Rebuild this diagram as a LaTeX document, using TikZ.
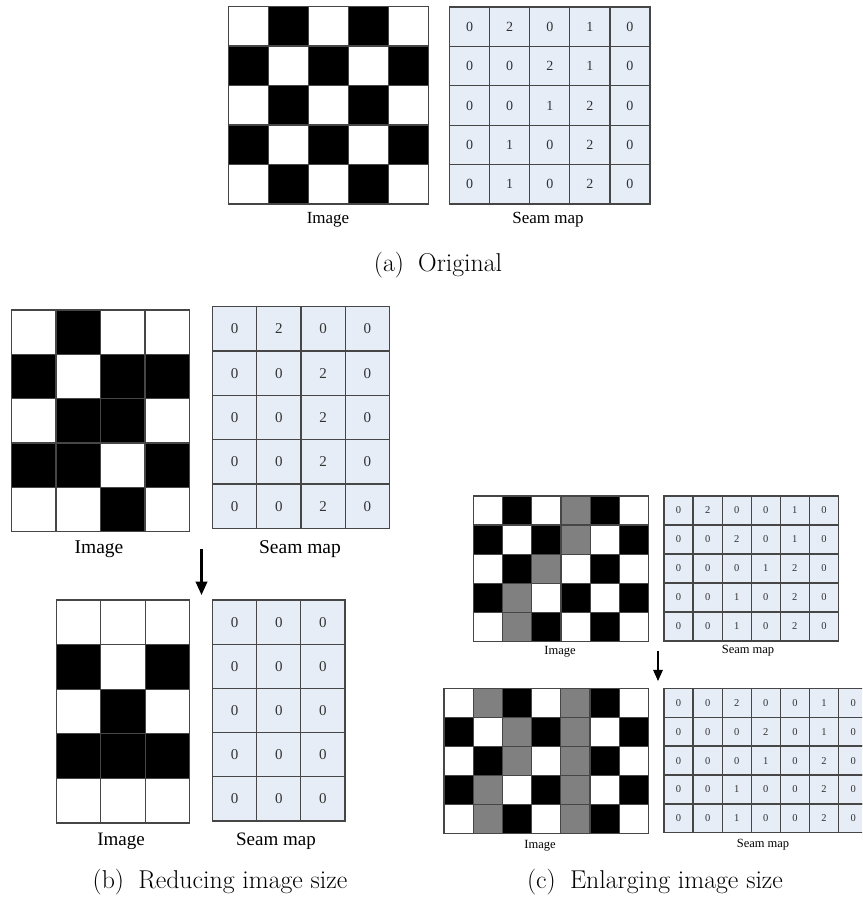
\documentclass[tikz,border=0pt]{standalone}
\usepackage{fontspec}
\newfontfamily\labfont{Liberation Serif}
\usetikzlibrary{arrows.meta}
\definecolor{cW}{RGB}{255,255,255}
\definecolor{cB}{RGB}{0,0,0}
\definecolor{cG}{RGB}{128,128,128}
\definecolor{seamfill}{RGB}{231,237,247}
\definecolor{gridln}{RGB}{70,70,70}
\definecolor{digitcol}{RGB}{50,50,50}
\tikzset{
  imgcell/.style={draw=gridln, line width=1.3pt},
  seamcell/.style={fill=seamfill, draw=gridln, line width=1.3pt},
  digit/.style={text=digitcol, inner sep=0pt},
  lbl/.style={anchor=base, inner sep=0pt, text=black},
  capt/.style={anchor=base, inner sep=0pt, font=\fontsize{25.8}{30}\selectfont},
  flow/.style={line width=#1, -{Triangle[length=2.4*#1+8pt, width=2*#1+7pt]}},
}
% #1 x0, #2 y0, #3 cell w, #4 cell h, #5 rows
\newcommand{\drawimggrid}[5]{%
  \foreach \rowlist [count=\r from 0] in {#5} {
    \foreach \cc [count=\k from 0] in \rowlist {
      \filldraw[imgcell, fill=c\cc] ({#1+\k*#3},{#2+\r*#4}) rectangle ++(#3,#4);
    }
  }
}
% #1 x0, #2 y0, #3 cell w, #4 cell h, #5 rows, #6 font size
\newcommand{\drawseamgrid}[6]{%
  \foreach \rowlist [count=\r from 0] in {#5} {
    \foreach \v [count=\k from 0] in \rowlist {
      \filldraw[seamcell] ({#1+\k*#3},{#2+\r*#4}) rectangle ++(#3,#4);
      \node[digit, font=\labfont\fontsize{#6}{#6}\selectfont] at ({#1+(\k+0.5)*#3},{#2+(\r+0.5)*#4}) {\v};
    }
  }
}
\begin{document}
\begin{tikzpicture}[x=1pt,y=-1pt]
\useasboundingbox (0,0) rectangle (862,899);
\begin{scope}
\clip (0,0) rectangle (862,899);
% (a) Original
\drawimggrid{228.5}{6.5}{40}{39.5}{{W,B,W,B,W},{B,W,B,W,B},{W,B,W,B,W},{B,W,B,W,B},{W,B,W,B,W}}
\drawseamgrid{449.5}{7}{40.1}{39.4}{{0,2,0,1,0},{0,0,2,1,0},{0,0,1,2,0},{0,1,0,2,0},{0,1,0,2,0}}{14}
\node[lbl, font=\labfont\fontsize{17}{17}\selectfont] (aimg) at (328,223) {Image};
\node[lbl, font=\labfont\fontsize{17}{17}\selectfont] (aseam) at (548,223) {Seam map};
\node[capt] (capa) at (438,271) {(a)\hspace{0.55em}Original};

% (b) Reducing
\drawimggrid{11.5}{310}{44.5}{44.3}{{W,B,W,W},{B,W,B,B},{W,B,B,W},{B,B,W,B},{W,W,B,W}}
\drawseamgrid{212.5}{306.5}{44.25}{44.4}{{0,2,0,0},{0,0,2,0},{0,0,2,0},{0,0,2,0},{0,0,2,0}}{15}
\node[lbl, font=\labfont\fontsize{19.5}{19.5}\selectfont] (bimg1) at (99,553) {Image};
\node[lbl, font=\labfont\fontsize{19.5}{19.5}\selectfont] (bseam1) at (300,553) {Seam map};
\drawimggrid{56.5}{600}{44.33}{44.6}{{W,W,W},{B,W,B},{W,B,W},{B,B,B},{W,W,W}}
\drawseamgrid{212.5}{600}{44.17}{44.2}{{0,0,0},{0,0,0},{0,0,0},{0,0,0},{0,0,0}}{15}
\node[lbl, font=\labfont\fontsize{19}{19}\selectfont] (bimg2) at (121,845) {Image};
\node[lbl, font=\labfont\fontsize{19}{19}\selectfont] (bseam2) at (276,845) {Seam map};
\coordinate (barrS) at (201.5,549);
\coordinate (barrE) at (201.5,595);
\draw[flow=2.2pt] (barrS) -- (barrE);
\node[capt] (capb) at (220,888) {(b)\hspace{0.55em}Reducing image size};

% (c) Enlarging
\drawimggrid{473.5}{496}{29.17}{29.1}{{W,B,W,G,B,W},{B,W,B,G,W,B},{W,B,G,W,B,W},{B,G,W,B,W,B},{W,G,B,W,B,W}}
\drawseamgrid{664}{496}{29.08}{29.0}{{0,2,0,0,1,0},{0,0,2,0,1,0},{0,0,0,1,2,0},{0,0,1,0,2,0},{0,0,1,0,2,0}}{10.5}
\node[lbl, font=\labfont\fontsize{12.5}{12.5}\selectfont] (cimg1) at (560,654) {Image};
\node[lbl, font=\labfont\fontsize{12.5}{12.5}\selectfont] (cseam1) at (748,653) {Seam map};
\drawimggrid{444}{688.3}{29.21}{29.0}{{W,G,B,W,G,B,W},{B,W,G,B,G,W,B},{W,B,G,W,G,B,W},{B,G,W,B,G,W,B},{W,G,B,W,G,B,W}}
\drawseamgrid{664}{688.3}{29.1}{28.9}{{0,0,2,0,0,1,0},{0,0,0,2,0,1,0},{0,0,0,1,0,2,0},{0,0,1,0,0,2,0},{0,0,1,0,0,2,0}}{10.5}
\node[lbl, font=\labfont\fontsize{12.5}{12.5}\selectfont] (cimg2) at (540,848) {Image};
\node[lbl, font=\labfont\fontsize{12.5}{12.5}\selectfont] (cseam2) at (763,847) {Seam map};
\coordinate (carrS) at (658,651);
\coordinate (carrE) at (658,681);
\draw[flow=1.3pt] (carrS) -- (carrE);
\node[capt] (capc) at (655,888) {(c)\hspace{0.55em}Enlarging image size};
\end{scope}
\end{tikzpicture}
\end{document}
